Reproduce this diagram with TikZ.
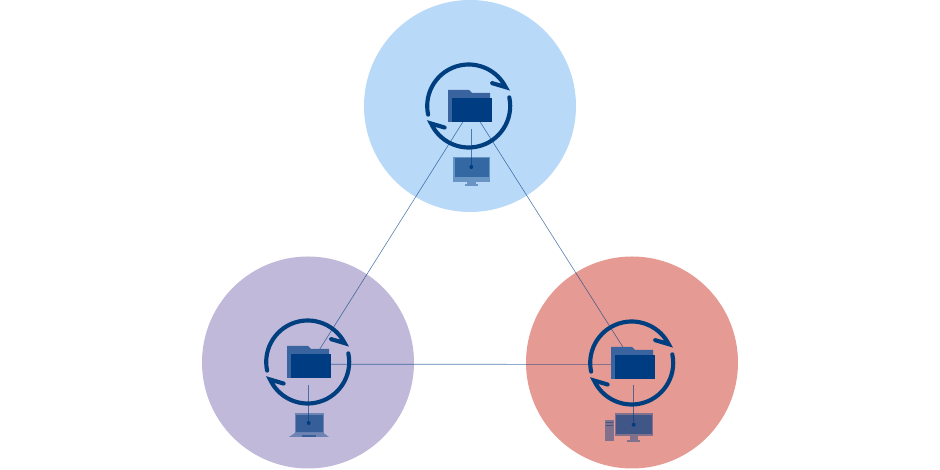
\documentclass[tikz,border=0pt]{standalone}
\definecolor{topblue}{HTML}{B9D9F8}
\definecolor{leftlilac}{HTML}{C0B9D9}
\definecolor{rightrose}{HTML}{E69A94}
\definecolor{navy}{HTML}{003C82}
\definecolor{foldertab}{HTML}{3A64A0}
\definecolor{ringblue}{HTML}{003F7F}
\tikzset{
  zone/.style={circle,inner sep=0pt,minimum size=159pt},
  hub/.style={inner sep=0pt,minimum size=0pt},
  link/.style={navy,opacity=.65,line width=.45pt},
  stub/.style={navy,opacity=.6,line width=.8pt},
  tipdot/.style={circle,fill=navy,inner sep=0pt,minimum size=3pt},
  shell/.style={fill=navy,opacity=.43},
  screen/.style={fill=navy,opacity=.5},
  ring/.style={ringblue,line width=3.1pt,line cap=round,line join=miter,miter limit=3},
  folderfront/.style={fill=navy,inner sep=0pt,minimum width=30pt,minimum height=18pt},
  syncset/.pic={
    \fill[foldertab] (-22,16) -- (-1,16) -- (2,13) -- (20,13) -- (20,8) -- (-18,8)
      -- (-18,-16) -- (-22,-16) -- cycle;
    \node[folderfront] (folder) at (2,-4) {};
    \begin{scope}[shift={(-1.3,0)}]
      \draw[ring] (192:41.5) arc[start angle=192,end angle=27,radius=41.5] -- ++(-13.5,4);
      \draw[ring] (12:41.5) arc[start angle=12,end angle=-155,radius=41.5] -- ++(13.5,-4);
    \end{scope}
  },
}
\begin{document}
\begin{tikzpicture}[x=.75pt,y=.75pt]
\useasboundingbox (0,0) rectangle (940,470);
\node[zone,fill=topblue] (topzone) at (470,364) {};
\node[zone,fill=leftlilac] (leftzone) at (308,107.5) {};
\node[zone,fill=rightrose] (rightzone) at (632,107.5) {};
\node[hub] (tophub) at (470,364) {};
\node[hub] (lefthub) at (309,108) {};
\node[hub] (righthub) at (633,107) {};
\draw[link] ([xshift=2.2pt]tophub.center) -- ([xshift=2.0pt]lefthub.center);
\draw[link] (tophub.center) -- (righthub.center);
\draw[link] ([yshift=-1.7pt]lefthub.center) -- ([yshift=-1pt]righthub.center);
% top monitor
\fill[shell] (453,313.3) rectangle (490,288.3);
\fill[screen] (454.7,312) rectangle (488.7,293);
\fill[shell] (466.7,288.3) rectangle (476,285.5);
\fill[shell] (465,285.5) rectangle (478,284);
% left laptop
\fill[shell] (295,57) rectangle (324,37);
\fill[screen] (295.7,55.3) rectangle (323,38.3);
\fill[shell] (295,37) -- (323.5,37) -- (329,33) -- (289,33) -- cycle;
\fill[screen] (302,35) rectangle (316,33);
% right desktop
\fill[shell] (615,57) rectangle (653,34);
\fill[screen] (616.3,55.3) rectangle (651.7,35.7);
\fill[shell] (630,34) rectangle (638.3,30);
\fill[shell] (627.3,30) rectangle (640.3,28.3);
\fill[shell] (605,50) rectangle (614,29);
\fill[screen] (606,47.5) rectangle (613,46.5);
\fill[screen] (606,45) rectangle (613,44);
\pic (top) at (tophub) {syncset};
\pic (left) at (lefthub) {syncset};
\pic (right) at (righthub) {syncset};
\node[tipdot] (topdot) at (471.3,303) {};
\node[tipdot] (leftdot) at (308.7,47) {};
\node[tipdot] (rightdot) at (633.7,45.3) {};
\coordinate (topstub) at (471.3,341);
\coordinate (leftstub) at (308.7,85);
\coordinate (rightstub) at (633.7,85);
\draw[stub] (topstub) -- (topdot);
\draw[stub] (leftstub) -- (leftdot);
\draw[stub] (rightstub) -- (rightdot);
\end{tikzpicture}
\end{document}
